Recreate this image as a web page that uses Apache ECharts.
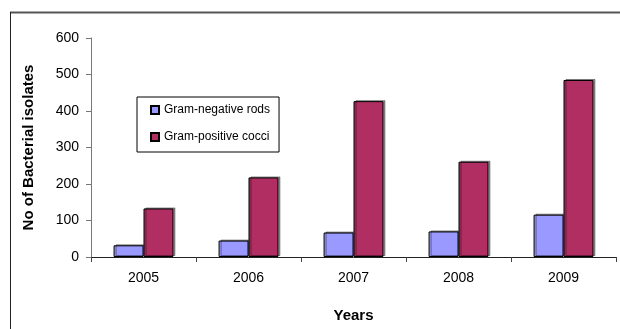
<!DOCTYPE html>
<html>
<head>
<meta charset="utf-8">
<script src="https://cdn.jsdelivr.net/npm/echarts@6/dist/echarts.min.js"></script>
<style>html,body{margin:0;padding:0;background:#fff;}#c{width:620px;height:329px;}</style>
</head>
<body>
<div id="c"></div>
<script>
var years = ['2005', '2006', '2007', '2008', '2009'];
var gramNegativeRods = [32, 45, 67, 70, 116];
var gramPositiveCocci = [133, 218, 427, 261, 485];
var yTicks = [0, 100, 200, 300, 400, 500, 600];

var FONT = '"Liberation Sans", Arial, sans-serif';
var chart = echarts.init(document.getElementById('c'), null, {renderer: 'canvas'});
var barStyle = function (color) {
  return {
    color: color,
    borderColor: '#000',
    borderWidth: 1,
    shadowColor: 'rgba(0,0,0,0.4)',
    shadowBlur: 0,
    shadowOffsetX: 2,
    shadowOffsetY: -1
  };
};
chart.setOption({
  animation: false,
  backgroundColor: '#fff',
  textStyle: {fontFamily: FONT},
  graphic: [
    {type: 'line', shape: {x1: 10, y1: 12.5, x2: 620, y2: 12.5}, style: {stroke: '#555', lineWidth: 2}},
    {type: 'line', shape: {x1: 10.5, y1: 12, x2: 10.5, y2: 329}, style: {stroke: '#222', lineWidth: 1}}
  ],
  grid: {left: 91, right: 4, top: 38, bottom: 72},
  legend: {
    orient: 'vertical',
    left: 137,
    top: 97,
    itemWidth: 8,
    itemHeight: 8,
    itemGap: 15,
    padding: [7, 9, 9, 13],
    borderColor: '#000',
    borderWidth: 1,
    icon: 'rect',
    textStyle: {fontSize: 12, color: '#000', fontFamily: FONT},
    data: ['Gram-negative rods', 'Gram-positive cocci']
  },
  xAxis: {
    type: 'category',
    data: years,
    name: 'Years',
    nameLocation: 'middle',
    nameGap: 51,
    nameTextStyle: {fontSize: 15, fontWeight: 'bold', color: '#000', fontFamily: FONT},
    axisLine: {lineStyle: {color: '#222', width: 1}},
    axisTick: {show: true, length: 5, lineStyle: {color: '#444'}},
    axisLabel: {fontSize: 14, color: '#000', margin: 14, fontFamily: FONT}
  },
  yAxis: {
    type: 'value',
    min: yTicks[0],
    max: yTicks[yTicks.length - 1],
    interval: 100,
    name: 'No of Bacterial isolates',
    nameLocation: 'middle',
    nameGap: 55,
    nameTextStyle: {fontSize: 15, fontWeight: 'bold', color: '#000', fontFamily: FONT},
    splitLine: {show: false},
    axisLine: {show: true, lineStyle: {color: '#777', width: 1}},
    axisTick: {show: true, length: 5, lineStyle: {color: '#777'}},
    axisLabel: {fontSize: 14, color: '#000', margin: 12, fontFamily: FONT}
  },
  series: [
    {
      name: 'Gram-negative rods',
      type: 'bar',
      data: gramNegativeRods,
      barGap: '0%',
      barCategoryGap: '43%',
      itemStyle: barStyle('#9999FF')
    },
    {
      name: 'Gram-positive cocci',
      type: 'bar',
      data: gramPositiveCocci,
      barGap: '0%',
      barCategoryGap: '43%',
      itemStyle: barStyle('#B02E62')
    }
  ]
});
</script>
</body>
</html>
